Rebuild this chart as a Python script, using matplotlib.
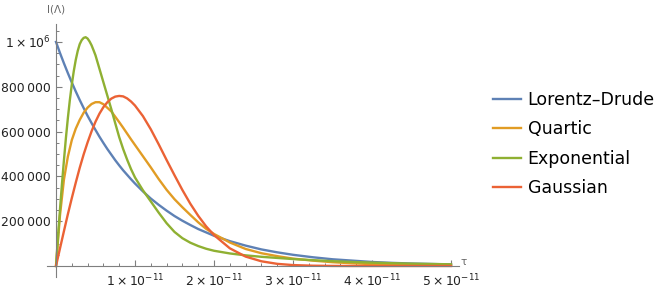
import numpy as np
import matplotlib
matplotlib.use('Agg')
import matplotlib.pyplot as plt
from matplotlib.ticker import FixedLocator, MultipleLocator

# time grid (units of 1e-11)
tau = np.array([0, 0.05, 0.1, 0.15, 0.2, 0.25, 0.3, 0.35, 0.4, 0.45, 0.5, 0.55,
                0.6, 0.65, 0.7, 0.75, 0.8, 0.85, 0.9, 0.95, 1.0, 1.1, 1.2, 1.3,
                1.4, 1.5, 1.6, 1.7, 1.8, 1.9, 2.0, 2.2, 2.4, 2.6, 2.8, 3.0,
                3.25, 3.5, 3.75, 4.0, 4.25, 4.5, 4.75, 5.0]) * 1e-11

# finer grid for the sharp exponential peak
tau_exp = np.array([0, 0.025, 0.05, 0.075, 0.1, 0.125, 0.15, 0.175, 0.2, 0.225,
                    0.25, 0.275, 0.3, 0.325, 0.35, 0.375, 0.4, 0.425, 0.45,
                    0.475, 0.5, 0.55, 0.6, 0.65, 0.7, 0.75, 0.8, 0.85, 0.9,
                    0.95, 1.0, 1.1, 1.2, 1.3, 1.4, 1.5, 1.6, 1.7, 1.8, 1.9,
                    2.0, 2.2, 2.4, 2.6, 2.8, 3.0, 3.25, 3.5, 3.75, 4.0, 4.25,
                    4.5, 4.75, 5.0]) * 1e-11

lorentz = [1000000, 951000, 905000, 861000, 819000, 779000, 741000, 705000,
           670000, 638000, 607000, 577000, 549000, 522000, 497000, 472000,
           449000, 427000, 407000, 387000, 368000, 333000, 301000, 273000,
           247000, 223000, 202000, 183000, 165000, 150000, 135000, 111000,
           91000, 74000, 61000, 50000, 39000, 30000, 24000, 18000, 14000,
           11000, 9000, 7000]

quartic = [0, 225000, 385000, 488000, 562000, 613000, 652000, 684000, 707000,
           723000, 731000, 731000, 722000, 706000, 690000, 666000, 642000,
           617000, 591000, 565000, 540000, 490000, 440000, 388000, 340000,
           298000, 262000, 228000, 195000, 166000, 143000, 105000, 76000,
           57000, 44000, 33000, 24000, 17000, 12000, 8500, 6000, 4000, 3000,
           2000]

exponential = [0, 130000, 250000, 365000, 470000, 570000, 660000, 740000,
               810000, 870000, 920000, 960000, 990000, 1008000, 1018000,
               1021000, 1015000, 1002000, 985000, 963000, 940000, 880000,
               820000, 760000, 700000, 637000, 575000, 522000, 475000, 432000,
               395000, 338000, 288000, 238000, 191000, 152000, 124000, 104000,
               89000, 77000, 68000, 56000, 47500, 41000, 36000, 31000, 26000,
               21500, 18000, 15000, 12500, 10500, 9000, 7500]

gaussian = [0, 78000, 155000, 231000, 303000, 372000, 438000, 498000, 552000,
            601000, 644000, 680000, 709000, 731000, 747000, 756000, 759000,
            757000, 748000, 734000, 716000, 669000, 610000, 543000, 473000,
            405000, 339000, 278000, 224000, 177000, 138000, 79000, 42000,
            21000, 9600, 4100, 1300, 300, 0, 0, 0, 0, 0, 0]

names = ['Lorentz\u2013Drude', 'Quartic', 'Exponential', 'Gaussian']
colors = ['#5E81B5', '#E19C24', '#8FB032', '#EB6235']

xticks = np.array([1, 2, 3, 4, 5]) * 1e-11
xlabels = [r'$1\times10^{-11}$', r'$2\times10^{-11}$', r'$3\times10^{-11}$',
           r'$4\times10^{-11}$', r'$5\times10^{-11}$']
yticks = [200000, 400000, 600000, 800000, 1000000]
ylabels = ['200\u2009000', '400\u2009000', '600\u2009000', '800\u2009000',
           r'$1\times10^{6}$']

W, H = 662, 291
fig = plt.figure(figsize=(W / 100, H / 100), dpi=100)
ax = fig.add_axes([47 / W, 14 / H, 412 / W, 253 / H])

series = [(tau, lorentz), (tau, quartic), (tau_exp, exponential), (tau, gaussian)]
for (t, y), name, c in zip(series, names, colors):
    ax.plot(t, y, color=c, lw=1.7, label=name, solid_joinstyle='round')

ax.set_xlim(-0.114e-11, 5.101e-11)
ax.set_ylim(-49100, 1.080e6)

for s in ['top', 'right']:
    ax.spines[s].set_visible(False)
for s in ['left', 'bottom']:
    ax.spines[s].set_position(('data', 0))
    ax.spines[s].set_color('#7f7f7f')
    ax.spines[s].set_linewidth(0.8)

ax.xaxis.set_major_locator(FixedLocator(xticks))
ax.set_xticklabels(xlabels)
ax.xaxis.set_minor_locator(MultipleLocator(0.2e-11))
ax.yaxis.set_major_locator(FixedLocator(yticks))
ax.set_yticklabels(ylabels)
ax.yaxis.set_minor_locator(MultipleLocator(50000))

ax.tick_params(which='major', direction='in', length=4.5, width=0.8,
               color='#7f7f7f', labelsize=8.9, labelcolor='#222222')
ax.tick_params(which='minor', direction='in', length=2.5, width=0.7,
               color='#7f7f7f')
ax.tick_params(axis='x', which='major', pad=5)
ax.tick_params(axis='y', which='major', pad=4)

fig.text(56 / W, 1 - 10 / H, 'I(\u039b)', ha='center', va='center',
         fontsize=7.5, color='#666666')
fig.text(464 / W, 1 - 262 / H, '\u03c4', ha='center', va='center',
         fontsize=7.5, color='#666666')

fig.legend(loc='center left', bbox_to_anchor=(493 / W, 1 - 144 / H),
           frameon=False, fontsize=12.5, handlelength=1.6, handletextpad=0.4,
           labelspacing=0.65, borderpad=0, borderaxespad=0)

fig.savefig('out.png', dpi=100)
